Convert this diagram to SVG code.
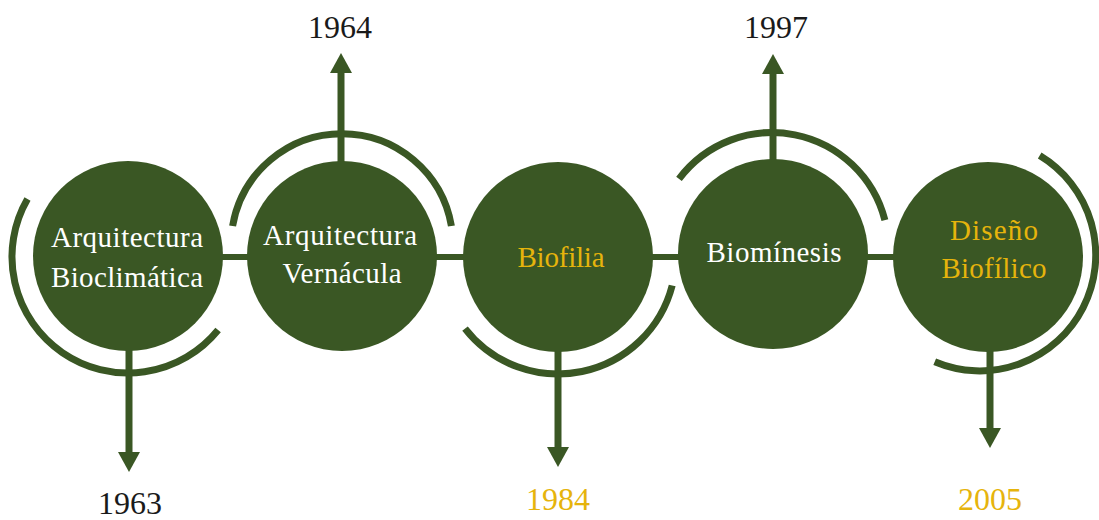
<svg xmlns="http://www.w3.org/2000/svg" width="1099" height="520" viewBox="0 0 1099 520">
  <style>
    .node { fill: #3a5724; }
    .ring { fill: none; stroke: #3a5724; stroke-width: 7; }
    .link { stroke: #3a5724; stroke-width: 6; fill: none; }
    .shaft { stroke: #3a5724; stroke-width: 7; fill: none; marker-end: url(#head); }
    .lbl { font-family: "Liberation Serif", "Times New Roman", serif; font-size: 29px; text-anchor: middle; }
    .white { fill: #ffffff; }
    .gold { fill: #e6b40c; }
    .year { font-family: "Liberation Serif", "Times New Roman", serif; font-size: 32px; text-anchor: middle; fill: #1a1a1a; }
    .year.gold { fill: #e6b40c; }
  </style>
  <defs>
    <marker id="head" viewBox="0 0 20 22" refX="2" refY="11" markerWidth="20" markerHeight="22" markerUnits="userSpaceOnUse" orient="auto">
      <path d="M0,0 L20,11 L0,22 Z" fill="#3a5724"/>
    </marker>
  </defs>

  <!-- connectors: timeline bar, arcs and date arrows -->
  <g id="connectors">
    <line class="link" x1="215" y1="257" x2="900" y2="257"/>
    <path class="ring" d="M27.5,199 A116,116 0 0 0 218.1,330"/>
    <path class="ring" d="M232.6,226 A111,111 0 0 1 451.4,226"/>
    <path class="ring" d="M672.2,285.5 A118,118 0 0 1 465,328.7"/>
    <path class="ring" d="M679,178.9 A116.5,116.5 0 0 1 884.9,220.2"/>
    <path class="ring" d="M1039.7,155.6 A116,116 0 0 1 934.7,361.8"/>
    <line class="shaft" x1="129" y1="340" x2="129" y2="454"/>
    <line class="shaft" x1="341" y1="170" x2="341" y2="71"/>
    <line class="shaft" x1="558" y1="340" x2="558" y2="449"/>
    <line class="shaft" x1="773" y1="170" x2="773" y2="72"/>
    <line class="shaft" x1="990" y1="340" x2="990" y2="430"/>
  </g>

  <g id="n-bioclimatica">
    <circle class="node" cx="128" cy="256" r="95"/>
    <text class="lbl white" x="127" y="247" textLength="152" lengthAdjust="spacing">Arquitectura</text>
    <text class="lbl white" x="127" y="287" textLength="152" lengthAdjust="spacing">Bioclimática</text>
  </g>
  <g id="n-vernacula">
    <circle class="node" cx="342" cy="256" r="95"/>
    <text class="lbl white" x="340" y="245" textLength="154" lengthAdjust="spacing">Arquitectura</text>
    <text class="lbl white" x="342" y="283" textLength="119" lengthAdjust="spacing">Vernácula</text>
  </g>
  <g id="n-biofilia">
    <circle class="node" cx="558" cy="257" r="95"/>
    <text class="lbl gold" x="561" y="267" textLength="87" lengthAdjust="spacing">Biofilia</text>
  </g>
  <g id="n-biominesis">
    <circle class="node" cx="773" cy="254" r="95"/>
    <text class="lbl white" x="774" y="262" textLength="135" lengthAdjust="spacing">Biomínesis</text>
  </g>
  <g id="n-diseno">
    <circle class="node" cx="988" cy="257" r="95"/>
    <text class="lbl gold" x="994" y="240" textLength="88" lengthAdjust="spacing">Diseño</text>
    <text class="lbl gold" x="994" y="278" textLength="105" lengthAdjust="spacing">Biofílico</text>
  </g>

  <g id="years">
    <text class="year" x="130" y="514">1963</text>
    <text class="year" x="340" y="38">1964</text>
    <text class="year gold" x="558" y="510">1984</text>
    <text class="year" x="776" y="38">1997</text>
    <text class="year gold" x="990" y="510">2005</text>
  </g>
</svg>
